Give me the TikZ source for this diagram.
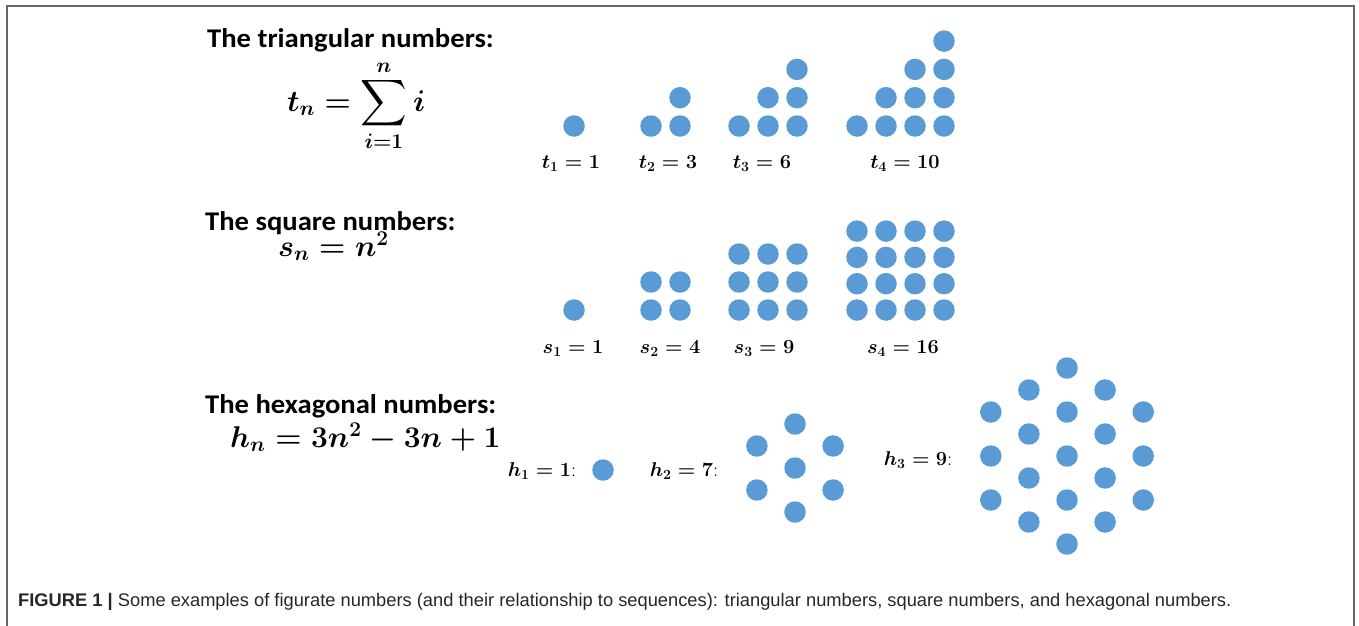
\RequirePackage{fix-cm}
\documentclass[tikz,border=0pt]{standalone}
\usepackage{exscale}
\usepackage{amsmath}
\usepackage[no-math]{fontspec}
\newfontfamily\titlefont[FakeStretch=1.06]{Carlito}
\newfontfamily\capfont{Liberation Sans}
\definecolor{dotblue}{RGB}{91,155,213}
\newcommand\bigsum{\mathop{\vcenter{\hbox{\scalebox{1.3}{$\displaystyle\sum$}}}}\limits}
\tikzset{
  dot/.style={circle,fill=dotblue,minimum size=21.5pt,inner sep=0pt},
  head/.style={anchor=base west,inner sep=0pt,font=\titlefont\bfseries\fontsize{27}{32}\selectfont},
  formula/.style={anchor=base west,inner sep=0pt,font=\fontsize{30}{36}\selectfont\boldmath},
  num label/.style={anchor=base,inner sep=0pt,font=\fontsize{20}{24}\selectfont\boldmath},
  frame line/.style={draw=black!60,line width=1.5pt},
}

\begin{document}
\begin{tikzpicture}[x=1pt,y=-1pt]
  \useasboundingbox (0,0) rectangle (1359,625);
  \draw[frame line] (7,626) -- (7,6) -- (1354,6) -- (1354,626);

  \node[head] (ttitle) at (207,47) {The triangular numbers:};
  \node[formula] (tform) at (287,111) {$t_n=\bigsum_{i=1}^{n} i$};
  \node[head] (stitle) at (205,230) {The square numbers:};
  \node[formula] (sform) at (278,256) {$s_n=n^2$};
  \node[head] (htitle) at (205,413) {The hexagonal numbers:};
  \node[formula] (hform) at (230,447) {$h_n=3n^2-3n+1$};

  \foreach \n/\xo in {1/574,2/651,3/739,4/857} {
    \foreach \c in {1,...,\n} {
      \foreach \r in {1,...,\c}
        \node[dot] (t\n-\c-\r) at ({\xo+(\c-1)*29},{126-(\r-1)*28.3}) {};
    }
  }
  \node[num label] (t1) at (571,168) {$t_1=1$};
  \node[num label] (t2) at (668,168) {$t_2=3$};
  \node[num label] (t3) at (762,168) {$t_3=6$};
  \node[num label] (t4) at (905,168) {$t_4=10$};

  \foreach \n/\xo/\dy in {1/574/28,2/651/28,3/739/28,4/857/26.3} {
    \foreach \c in {1,...,\n} {
      \foreach \r in {1,...,\n}
        \node[dot] (s\n-\c-\r) at ({\xo+(\c-1)*29},{310-(\r-1)*\dy}) {};
    }
  }
  \node[num label] (s1) at (573,353) {$s_1=1$};
  \node[num label] (s2) at (670,353) {$s_2=4$};
  \node[num label] (s3) at (764,353) {$s_3=9$};
  \node[num label] (s4) at (903,353) {$s_4=16$};

  \node[dot] (h1-0-0) at (603,470) {};
  \foreach \n/\cx/\cy in {1/795/468,2/1067/456} {
    \foreach \q in {-\n,...,\n} {
      \pgfmathtruncatemacro\rlo{max(-\n,-\n-\q)}
      \pgfmathtruncatemacro\rhi{min(\n,\n-\q)}
      \pgfmathtruncatemacro\qi{\q+\n}
      \foreach \r in {\rlo,...,\rhi} {
        \pgfmathtruncatemacro\ri{\r+\n}
        \node[dot] (h\n-\qi-\ri) at ({\cx+\q*38.1},{\cy+\q*22+\r*44}) {};
      }
    }
  }
  \node[num label] (h1) at (542,476) {$h_1=1$:};
  \node[num label] (h2) at (684,476) {$h_2=7$:};
  \node[num label] (h3) at (918,465) {$h_3=9$:};

  \node[anchor=base west,inner sep=0pt,text=black!85,font=\capfont\fontsize{18.3}{22}\selectfont]
    (caption) at (18,606) {\textbf{FIGURE 1 |} Some examples of figurate numbers (and their relationship to sequences): triangular numbers, square numbers, and hexagonal numbers.};
\end{tikzpicture}
\end{document}
